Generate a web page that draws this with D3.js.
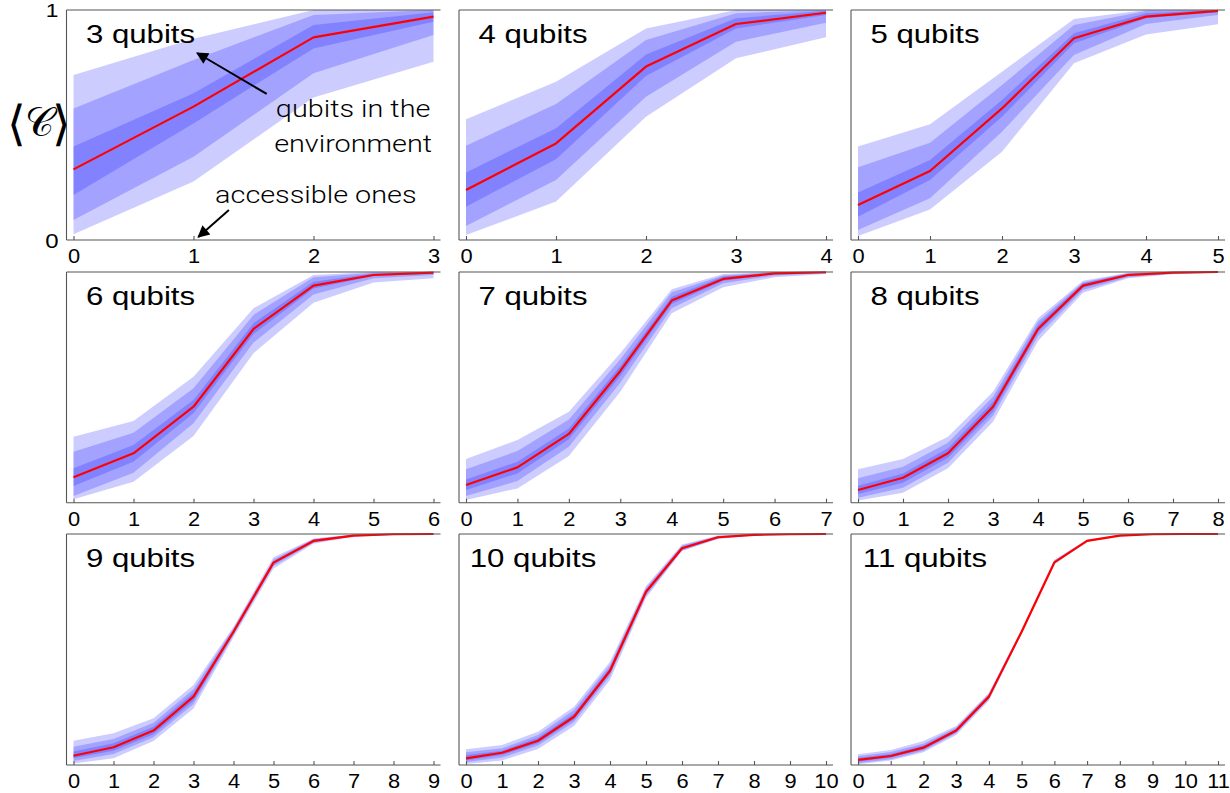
<!DOCTYPE html>
<html>
<head>
<meta charset="utf-8">
<script src="https://cdn.jsdelivr.net/npm/d3@7"></script>
<style>
  html, body { margin: 0; padding: 0; background: #fff; }
  svg { display: block; }
</style>
</head>
<body>
<svg id="chart" width="1230" height="793"></svg>
<script>
// ---------------- data ----------------
const qubitCounts = [3, 4, 5, 6, 7, 8, 9, 10, 11];

const meanValues = [
  [0.307, 0.58, 0.881, 0.971],
  [0.217, 0.42, 0.754, 0.939, 0.988],
  [0.152, 0.3, 0.572, 0.877, 0.971, 0.996],
  [0.11, 0.214, 0.416, 0.753, 0.941, 0.987, 0.997],
  [0.077, 0.153, 0.298, 0.571, 0.876, 0.97, 0.994, 0.999],
  [0.055, 0.108, 0.214, 0.416, 0.753, 0.941, 0.987, 0.997, 1.0],
  [0.04, 0.077, 0.149, 0.296, 0.577, 0.876, 0.97, 0.993, 0.999, 1.0],
  [0.029, 0.053, 0.105, 0.209, 0.408, 0.75, 0.938, 0.986, 0.996, 0.999, 1.0],
  [0.022, 0.039, 0.075, 0.149, 0.296, 0.577, 0.877, 0.97, 0.993, 0.999, 1.0, 1.0]
];

const innerLow = [
  [0.196, 0.507, 0.833, 0.949],
  [0.145, 0.351, 0.713, 0.92, 0.978],
  [0.101, 0.261, 0.536, 0.855, 0.964, 0.99],
  [0.072, 0.178, 0.388, 0.731, 0.929, 0.983, 0.994],
  [0.055, 0.127, 0.275, 0.549, 0.861, 0.962, 0.99, 0.997],
  [0.038, 0.087, 0.195, 0.394, 0.739, 0.932, 0.983, 0.995, 0.999],
  [0.029, 0.062, 0.133, 0.278, 0.569, 0.869, 0.966, 0.991, 0.998, 1.0],
  [0.019, 0.043, 0.094, 0.197, 0.397, 0.741, 0.932, 0.983, 0.995, 0.999, 1.0],
  [0.014, 0.032, 0.068, 0.142, 0.29, 0.573, 0.874, 0.969, 0.992, 0.999, 1.0, 1.0]
];
const innerHigh = [
  [0.406, 0.638, 0.935, 0.99],
  [0.294, 0.486, 0.807, 0.964, 0.997],
  [0.207, 0.348, 0.609, 0.899, 0.986, 1.0],
  [0.149, 0.25, 0.445, 0.778, 0.958, 0.994, 1.0],
  [0.101, 0.178, 0.322, 0.593, 0.893, 0.98, 0.997, 1.0],
  [0.074, 0.127, 0.236, 0.438, 0.77, 0.951, 0.992, 0.999, 1.0],
  [0.058, 0.094, 0.166, 0.313, 0.584, 0.882, 0.975, 0.996, 1.0, 1.0],
  [0.043, 0.062, 0.118, 0.223, 0.421, 0.758, 0.945, 0.989, 0.998, 1.0, 1.0],
  [0.03, 0.048, 0.084, 0.155, 0.302, 0.581, 0.881, 0.972, 0.995, 1.0, 1.0, 1.0]
];
const middleLow = [
  [0.087, 0.362, 0.725, 0.891],
  [0.061, 0.261, 0.623, 0.862, 0.945],
  [0.043, 0.181, 0.471, 0.804, 0.939, 0.978],
  [0.029, 0.13, 0.344, 0.694, 0.903, 0.973, 0.987],
  [0.029, 0.094, 0.243, 0.52, 0.843, 0.951, 0.985, 0.995],
  [0.022, 0.065, 0.173, 0.377, 0.723, 0.922, 0.977, 0.993, 0.998],
  [0.017, 0.048, 0.12, 0.264, 0.562, 0.862, 0.962, 0.99, 0.997, 0.999],
  [0.012, 0.032, 0.084, 0.186, 0.385, 0.733, 0.929, 0.981, 0.994, 0.998, 0.999],
  [0.008, 0.025, 0.062, 0.137, 0.285, 0.57, 0.871, 0.967, 0.991, 0.998, 1.0, 1.0]
];
const middleHigh = [
  [0.572, 0.783, 0.978, 1.0],
  [0.41, 0.591, 0.87, 0.986, 1.0],
  [0.316, 0.423, 0.674, 0.935, 0.996, 1.0],
  [0.221, 0.303, 0.496, 0.814, 0.977, 0.997, 1.0],
  [0.145, 0.224, 0.361, 0.622, 0.912, 0.985, 1.0, 1.0],
  [0.106, 0.156, 0.26, 0.459, 0.785, 0.956, 0.995, 1.0, 1.0],
  [0.079, 0.113, 0.183, 0.328, 0.592, 0.89, 0.978, 0.997, 1.0, 1.0],
  [0.055, 0.072, 0.13, 0.238, 0.433, 0.766, 0.95, 0.991, 0.999, 1.0, 1.0],
  [0.038, 0.056, 0.092, 0.162, 0.307, 0.584, 0.884, 0.974, 0.996, 1.0, 1.0, 1.0]
];
const outerLow = [
  [0.025, 0.254, 0.62, 0.775],
  [0.022, 0.167, 0.536, 0.79, 0.881],
  [0.017, 0.133, 0.384, 0.768, 0.894, 0.938],
  [0.015, 0.091, 0.289, 0.648, 0.867, 0.954, 0.973],
  [0.012, 0.062, 0.202, 0.481, 0.821, 0.934, 0.977, 0.991],
  [0.009, 0.043, 0.149, 0.351, 0.701, 0.91, 0.973, 0.99, 0.997],
  [0.007, 0.029, 0.104, 0.245, 0.553, 0.851, 0.958, 0.988, 0.996, 0.999],
  [0.004, 0.02, 0.069, 0.169, 0.368, 0.724, 0.926, 0.978, 0.993, 0.998, 0.999],
  [0.003, 0.019, 0.055, 0.13, 0.278, 0.567, 0.869, 0.966, 0.99, 0.998, 1.0, 1.0]
];
const outerHigh = [
  [0.717, 0.875, 1.0, 1.0],
  [0.525, 0.688, 0.92, 1.0, 1.0],
  [0.406, 0.503, 0.732, 0.961, 1.0, 1.0],
  [0.286, 0.354, 0.546, 0.843, 0.987, 1.0, 1.0],
  [0.189, 0.272, 0.394, 0.648, 0.925, 0.991, 1.0, 1.0],
  [0.145, 0.189, 0.286, 0.481, 0.799, 0.962, 0.997, 1.0, 1.0],
  [0.105, 0.137, 0.202, 0.346, 0.599, 0.899, 0.98, 0.998, 1.0, 1.0],
  [0.068, 0.087, 0.144, 0.252, 0.447, 0.775, 0.955, 0.993, 1.0, 1.0, 1.0],
  [0.046, 0.065, 0.104, 0.169, 0.313, 0.587, 0.888, 0.976, 0.997, 1.0, 1.0, 1.0]
];

const yTickLabels = ["0", "1"];
const panelTitleSuffix = " qubits";
const annotationEnvLines = ["qubits in the", "environment"];
const annotationAccessible = "accessible ones";

// ---------------- layout ----------------
const colLeft = [66.5, 459, 851];
const rowTop = [10, 272, 534];
const rowBottom = [240, 502.7, 765];
const frameW = 374;
const plotPadL = 7, plotW = 360;
const SX = 1.2;      // horizontal text stretch of the reference
const SX_TICK = 1.12;
const FONT = "'Liberation Sans', Arial, Helvetica, sans-serif";
const LIGHT_FONT = "Roboto, 'Liberation Sans', Arial, sans-serif";

const svg = d3.select("#chart");

function stretchedText(g, x, y, str, size, anchor, family) {
  return g.append("text")
    .attr("transform", `translate(${x},${y}) scale(${SX},1)`)
    .attr("text-anchor", anchor || "middle")
    .attr("font-family", family || FONT)
    .attr("font-size", size)
    .attr("fill", "#000")
    .text(str);
}

const bandSets = [
  [outerLow, outerHigh],
  [middleLow, middleHigh],
  [innerLow, innerHigh]
];

let firstScales = null;

qubitCounts.forEach((n, p) => {
  const col = p % 3, row = Math.floor(p / 3);
  const x0 = colLeft[col], top = rowTop[row], bottom = rowBottom[row];
  const x = d3.scaleLinear().domain([0, n]).range([x0 + plotPadL, x0 + plotPadL + plotW]);
  const y = d3.scaleLinear().domain([0, 1]).range([bottom, top]);
  if (p === 0) firstScales = { x, y };

  const g = svg.append("g").attr("class", "panel");
  const idx = d3.range(n + 1);

  // bands (three nested translucent layers)
  bandSets.forEach(([lo, hi]) => {
    const area = d3.area()
      .x(i => x(i))
      .y0(i => y(lo[p][i]))
      .y1(i => y(hi[p][i]));
    g.append("path")
      .datum(idx)
      .attr("d", area)
      .attr("fill", "#0000ff")
      .attr("fill-opacity", 0.2)
      .attr("stroke", "none");
  });

  // mean line
  const line = d3.line().x(i => x(i)).y(i => y(meanValues[p][i]));
  g.append("path")
    .datum(idx)
    .attr("d", line)
    .attr("fill", "none")
    .attr("stroke", "#ff0000")
    .attr("stroke-width", 2.2)
    .attr("stroke-linejoin", "round");

  // frame: left, top
  const frameColor = "#555";
  g.append("line").attr("x1", x0).attr("x2", x0).attr("y1", top).attr("y2", bottom)
    .attr("stroke", frameColor).attr("stroke-width", 1.1);
  g.append("line").attr("x1", x0).attr("x2", x0 + frameW).attr("y1", top).attr("y2", top)
    .attr("stroke", frameColor).attr("stroke-width", 1.1);

  // bottom axis
  const axis = d3.axisBottom(x)
    .tickValues(idx)
    .tickFormat(d3.format("d"))
    .tickSizeInner(-4)
    .tickSizeOuter(0)
    .tickPadding(0);
  const ag = g.append("g").attr("transform", `translate(0,${bottom})`).call(axis);
  ag.select(".domain").remove();
  ag.selectAll(".tick line").attr("stroke", frameColor).attr("stroke-width", 1.1);
  ag.selectAll(".tick text")
    .attr("y", 23.5).attr("dy", null)
    .attr("transform", `scale(${SX_TICK},1)`)
    .attr("font-family", FONT)
    .attr("font-size", 19.5)
    .attr("fill", "#000");
  g.append("line").attr("x1", x0).attr("x2", x0 + frameW).attr("y1", bottom).attr("y2", bottom)
    .attr("stroke", frameColor).attr("stroke-width", 1.1);

  // panel title
  stretchedText(g, x0 + 74, top + 32.5, n + panelTitleSuffix, 26, "middle");

  // y tick labels only for first panel
  if (p === 0) {
    stretchedText(g, x0 - 14.5, y(1) + 7, yTickLabels[1], 19, "middle");
    stretchedText(g, x0 - 14.5, y(0) + 7.5, yTickLabels[0], 20, "middle");
  }
});

// ---------------- y-axis label: ⟨𝒞⟩ as one text ----------------
const yl = svg.append("text")
  .attr("x", 7).attr("y", 140)
  .attr("text-anchor", "start")
  .attr("font-family", "'DejaVu Sans', sans-serif")
  .attr("fill", "#000");
yl.append("tspan").attr("font-size", 48).attr("font-weight", 200).text("⟨");
yl.append("tspan").attr("font-family", "'DejaVu Serif', 'DejaVu Sans', serif")
  .attr("font-size", 40).attr("dy", -4).attr("dx", -1).text("𝒞");
yl.append("tspan").attr("font-size", 48).attr("font-weight", 200)
  .attr("dy", 4).attr("dx", -2).text("⟩");

// ---------------- annotations (panel 1, data coordinates) ----------------
const { x: ax, y: ay } = firstScales;
const defs = svg.append("defs");
defs.append("marker")
  .attr("id", "arrowhead")
  .attr("viewBox", "0 0 10 10")
  .attr("refX", 9).attr("refY", 5)
  .attr("markerWidth", 7).attr("markerHeight", 6)
  .attr("markerUnits", "strokeWidth")
  .attr("orient", "auto")
  .append("path").attr("d", "M0,0 L10,5 L0,10 z").attr("fill", "#000");

const ann = svg.append("g");
ann.append("line")
  .attr("x1", ax(1.61)).attr("y1", ay(0.635))
  .attr("x2", ax(1.03)).attr("y2", ay(0.813))
  .attr("stroke", "#000").attr("stroke-width", 2)
  .attr("marker-end", "url(#arrowhead)");
ann.append("line")
  .attr("x1", ax(1.295)).attr("y1", ay(0.13))
  .attr("x2", ax(1.04)).attr("y2", ay(0.013))
  .attr("stroke", "#000").attr("stroke-width", 2)
  .attr("marker-end", "url(#arrowhead)");

annotationEnvLines.forEach((s, k) => {
  stretchedText(ann, ax(2.33), ay(0.536) + k * 35, s, 24, "middle", LIGHT_FONT)
    .attr("font-weight", 300);
});
stretchedText(ann, ax(1.18), ay(0.16), annotationAccessible, 24, "start", LIGHT_FONT)
  .attr("font-weight", 300);
</script>
</body>
</html>
